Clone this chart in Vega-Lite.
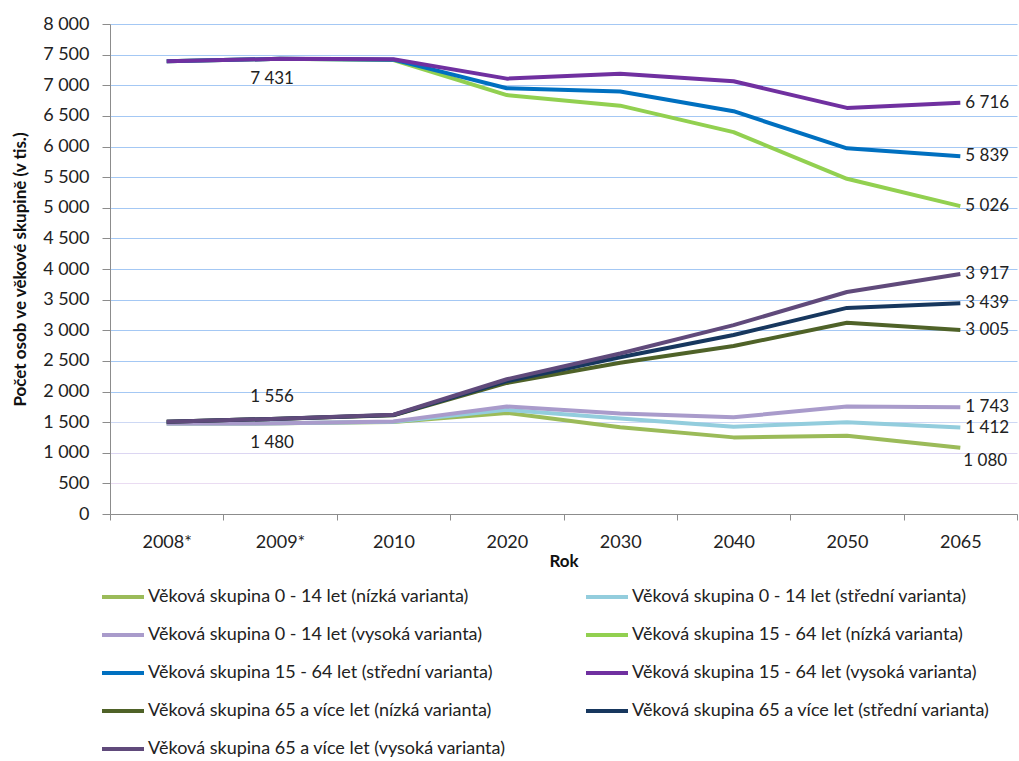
{
  "$schema": "https://vega.github.io/schema/vega-lite/v6.json",
  "width": 907,
  "height": 490,
  "autosize": "none",
  "padding": {"left": 110, "top": 24, "right": 2, "bottom": 247},
  "background": "white",
  "config": {
    "locale": {"number": {"decimal": ",", "thousands": "\u00a0", "grouping": [3], "currency": ["", "\u00a0Kč"]}},
    "font": "Lato",
    "view": {"stroke": null},
    "axis": {"labelFont": "Lato", "labelFontSize": 18, "labelColor": "#222222", "titleFont": "Lato", "titleFontSize": 17, "titleFontWeight": "bold", "titleColor": "#111111", "domainColor": "#8c8c8c", "tickColor": "#8c8c8c"},
    "legend": {"labelFont": "Lato", "labelFontSize": 18, "labelColor": "#222222"}
  },
  "data": {
    "values": [
      {"rok": "2008*", "skupina": "Věková skupina 0 - 14 let (nízká varianta)", "pocet": 1476},
      {"rok": "2009*", "skupina": "Věková skupina 0 - 14 let (nízká varianta)", "pocet": 1480},
      {"rok": "2010", "skupina": "Věková skupina 0 - 14 let (nízká varianta)", "pocet": 1500},
      {"rok": "2020", "skupina": "Věková skupina 0 - 14 let (nízká varianta)", "pocet": 1650},
      {"rok": "2030", "skupina": "Věková skupina 0 - 14 let (nízká varianta)", "pocet": 1415},
      {"rok": "2040", "skupina": "Věková skupina 0 - 14 let (nízká varianta)", "pocet": 1251},
      {"rok": "2050", "skupina": "Věková skupina 0 - 14 let (nízká varianta)", "pocet": 1279},
      {"rok": "2065", "skupina": "Věková skupina 0 - 14 let (nízká varianta)", "pocet": 1080},
      {"rok": "2008*", "skupina": "Věková skupina 0 - 14 let (střední varianta)", "pocet": 1476},
      {"rok": "2009*", "skupina": "Věková skupina 0 - 14 let (střední varianta)", "pocet": 1480},
      {"rok": "2010", "skupina": "Věková skupina 0 - 14 let (střední varianta)", "pocet": 1505},
      {"rok": "2020", "skupina": "Věková skupina 0 - 14 let (střední varianta)", "pocet": 1700},
      {"rok": "2030", "skupina": "Věková skupina 0 - 14 let (střední varianta)", "pocet": 1561},
      {"rok": "2040", "skupina": "Věková skupina 0 - 14 let (střední varianta)", "pocet": 1426},
      {"rok": "2050", "skupina": "Věková skupina 0 - 14 let (střední varianta)", "pocet": 1497},
      {"rok": "2065", "skupina": "Věková skupina 0 - 14 let (střední varianta)", "pocet": 1412},
      {"rok": "2008*", "skupina": "Věková skupina 0 - 14 let (vysoká varianta)", "pocet": 1476},
      {"rok": "2009*", "skupina": "Věková skupina 0 - 14 let (vysoká varianta)", "pocet": 1480},
      {"rok": "2010", "skupina": "Věková skupina 0 - 14 let (vysoká varianta)", "pocet": 1512},
      {"rok": "2020", "skupina": "Věková skupina 0 - 14 let (vysoká varianta)", "pocet": 1755},
      {"rok": "2030", "skupina": "Věková skupina 0 - 14 let (vysoká varianta)", "pocet": 1642},
      {"rok": "2040", "skupina": "Věková skupina 0 - 14 let (vysoká varianta)", "pocet": 1579},
      {"rok": "2050", "skupina": "Věková skupina 0 - 14 let (vysoká varianta)", "pocet": 1754},
      {"rok": "2065", "skupina": "Věková skupina 0 - 14 let (vysoká varianta)", "pocet": 1743},
      {"rok": "2008*", "skupina": "Věková skupina 15 - 64 let (nízká varianta)", "pocet": 7391},
      {"rok": "2009*", "skupina": "Věková skupina 15 - 64 let (nízká varianta)", "pocet": 7431},
      {"rok": "2010", "skupina": "Věková skupina 15 - 64 let (nízká varianta)", "pocet": 7412},
      {"rok": "2020", "skupina": "Věková skupina 15 - 64 let (nízká varianta)", "pocet": 6839},
      {"rok": "2030", "skupina": "Věková skupina 15 - 64 let (nízká varianta)", "pocet": 6667},
      {"rok": "2040", "skupina": "Věková skupina 15 - 64 let (nízká varianta)", "pocet": 6234},
      {"rok": "2050", "skupina": "Věková skupina 15 - 64 let (nízká varianta)", "pocet": 5473},
      {"rok": "2065", "skupina": "Věková skupina 15 - 64 let (nízká varianta)", "pocet": 5026},
      {"rok": "2008*", "skupina": "Věková skupina 15 - 64 let (střední varianta)", "pocet": 7391},
      {"rok": "2009*", "skupina": "Věková skupina 15 - 64 let (střední varianta)", "pocet": 7431},
      {"rok": "2010", "skupina": "Věková skupina 15 - 64 let (střední varianta)", "pocet": 7418},
      {"rok": "2020", "skupina": "Věková skupina 15 - 64 let (střední varianta)", "pocet": 6952},
      {"rok": "2030", "skupina": "Věková skupina 15 - 64 let (střední varianta)", "pocet": 6898},
      {"rok": "2040", "skupina": "Věková skupina 15 - 64 let (střední varianta)", "pocet": 6576},
      {"rok": "2050", "skupina": "Věková skupina 15 - 64 let (střední varianta)", "pocet": 5970},
      {"rok": "2065", "skupina": "Věková skupina 15 - 64 let (střední varianta)", "pocet": 5839},
      {"rok": "2008*", "skupina": "Věková skupina 15 - 64 let (vysoká varianta)", "pocet": 7391},
      {"rok": "2009*", "skupina": "Věková skupina 15 - 64 let (vysoká varianta)", "pocet": 7431},
      {"rok": "2010", "skupina": "Věková skupina 15 - 64 let (vysoká varianta)", "pocet": 7425},
      {"rok": "2020", "skupina": "Věková skupina 15 - 64 let (vysoká varianta)", "pocet": 7108},
      {"rok": "2030", "skupina": "Věková skupina 15 - 64 let (vysoká varianta)", "pocet": 7188},
      {"rok": "2040", "skupina": "Věková skupina 15 - 64 let (vysoká varianta)", "pocet": 7065},
      {"rok": "2050", "skupina": "Věková skupina 15 - 64 let (vysoká varianta)", "pocet": 6630},
      {"rok": "2065", "skupina": "Věková skupina 15 - 64 let (vysoká varianta)", "pocet": 6716},
      {"rok": "2008*", "skupina": "Věková skupina 65 a více let (nízká varianta)", "pocet": 1506},
      {"rok": "2009*", "skupina": "Věková skupina 65 a více let (nízká varianta)", "pocet": 1556},
      {"rok": "2010", "skupina": "Věková skupina 65 a více let (nízká varianta)", "pocet": 1612},
      {"rok": "2020", "skupina": "Věková skupina 65 a více let (nízká varianta)", "pocet": 2140},
      {"rok": "2030", "skupina": "Věková skupina 65 a více let (nízká varianta)", "pocet": 2470},
      {"rok": "2040", "skupina": "Věková skupina 65 a více let (nízká varianta)", "pocet": 2743},
      {"rok": "2050", "skupina": "Věková skupina 65 a více let (nízká varianta)", "pocet": 3122},
      {"rok": "2065", "skupina": "Věková skupina 65 a více let (nízká varianta)", "pocet": 3005},
      {"rok": "2008*", "skupina": "Věková skupina 65 a více let (střední varianta)", "pocet": 1506},
      {"rok": "2009*", "skupina": "Věková skupina 65 a více let (střední varianta)", "pocet": 1556},
      {"rok": "2010", "skupina": "Věková skupina 65 a více let (střední varianta)", "pocet": 1616},
      {"rok": "2020", "skupina": "Věková skupina 65 a více let (střední varianta)", "pocet": 2170},
      {"rok": "2030", "skupina": "Věková skupina 65 a více let (střední varianta)", "pocet": 2560},
      {"rok": "2040", "skupina": "Věková skupina 65 a více let (střední varianta)", "pocet": 2922},
      {"rok": "2050", "skupina": "Věková skupina 65 a více let (střední varianta)", "pocet": 3365},
      {"rok": "2065", "skupina": "Věková skupina 65 a více let (střední varianta)", "pocet": 3439},
      {"rok": "2008*", "skupina": "Věková skupina 65 a více let (vysoká varianta)", "pocet": 1506},
      {"rok": "2009*", "skupina": "Věková skupina 65 a více let (vysoká varianta)", "pocet": 1556},
      {"rok": "2010", "skupina": "Věková skupina 65 a více let (vysoká varianta)", "pocet": 1620},
      {"rok": "2020", "skupina": "Věková skupina 65 a více let (vysoká varianta)", "pocet": 2200},
      {"rok": "2030", "skupina": "Věková skupina 65 a více let (vysoká varianta)", "pocet": 2620},
      {"rok": "2040", "skupina": "Věková skupina 65 a více let (vysoká varianta)", "pocet": 3084},
      {"rok": "2050", "skupina": "Věková skupina 65 a více let (vysoká varianta)", "pocet": 3624},
      {"rok": "2065", "skupina": "Věková skupina 65 a více let (vysoká varianta)", "pocet": 3917}
    ]
  },
  "encoding": {
    "x": {
      "field": "rok",
      "type": "ordinal",
      "sort": ["2008*", "2009*", "2010", "2020", "2030", "2040", "2050", "2065"],
      "scale": {"type": "band", "paddingInner": 0, "paddingOuter": 0},
      "bandPosition": 0.5,
      "title": "Rok",
      "axis": {"labelAngle": 0, "tickBand": "extent", "tickSize": 6, "labelPadding": 13, "titlePadding": 2, "grid": false}
    },
    "y": {
      "field": "pocet",
      "type": "quantitative",
      "scale": {"domain": [0, 8000], "nice": false},
      "title": "Počet osob ve věkové skupině (v tis.)",
      "axis": {
        "values": [0, 500, 1000, 1500, 2000, 2500, 3000, 3500, 4000, 4500, 5000, 5500, 6000, 6500, 7000, 7500, 8000],
        "format": ",d",
        "grid": true,
        "gridColor": {"condition": [{"test": "datum.value == 500", "value": "#eadcf2"}, {"test": "datum.value == 1000", "value": "#dcd6f2"}, {"test": "datum.value == 1500", "value": "#cdd8f4"}], "value": "#a4c8f4"},
        "gridWidth": 1,
        "tickSize": 8,
        "labelPadding": 13,
        "titlePadding": 13
      }
    }
  },
  "layer": [
    {
      "mark": {"type": "line", "strokeWidth": 4, "strokeJoin": "round"},
      "encoding": {
        "color": {
          "field": "skupina",
          "type": "nominal",
          "sort": null,
          "scale": {
            "domain": [
              "Věková skupina 0 - 14 let (nízká varianta)",
              "Věková skupina 0 - 14 let (střední varianta)",
              "Věková skupina 0 - 14 let (vysoká varianta)",
              "Věková skupina 15 - 64 let (nízká varianta)",
              "Věková skupina 15 - 64 let (střední varianta)",
              "Věková skupina 15 - 64 let (vysoká varianta)",
              "Věková skupina 65 a více let (nízká varianta)",
              "Věková skupina 65 a více let (střední varianta)",
              "Věková skupina 65 a více let (vysoká varianta)"
            ],
            "range": ["#9bbb59", "#93cddd", "#a99bcb", "#92d050", "#0070c0", "#7030a0", "#4f6228", "#17375e", "#604a7b"]
          },
          "legend": {
            "title": null,
            "orient": "none",
            "legendX": -10,
            "legendY": 550,
            "columns": 2,
            "direction": "horizontal",
            "symbolType": "stroke",
            "symbolSize": 1764,
            "symbolStrokeWidth": 4,
            "labelOffset": 2,
            "labelLimit": 500,
            "rowPadding": 6,
            "columnPadding": 72
          }
        }
      }
    },
    {
      "transform": [{"filter": "datum.rok == '2065' && datum.skupina != 'Věková skupina 0 - 14 let (nízká varianta)'"}],
      "mark": {"type": "text", "align": "left", "baseline": "middle", "dx": 5, "fontSize": 17, "color": "#222222"},
      "encoding": {"text": {"field": "pocet", "type": "quantitative", "format": ",d"}}
    },
    {
      "transform": [{"filter": "datum.rok == '2065' && datum.skupina == 'Věková skupina 0 - 14 let (nízká varianta)'"}],
      "mark": {"type": "text", "align": "left", "baseline": "middle", "dx": 3, "dy": 13, "fontSize": 17, "color": "#222222"},
      "encoding": {"text": {"field": "pocet", "type": "quantitative", "format": ",d"}}
    },
    {
      "transform": [{"filter": "datum.rok == '2009*' && datum.skupina == 'Věková skupina 65 a více let (vysoká varianta)'"}],
      "mark": {"type": "text", "align": "center", "baseline": "middle", "dx": -8, "dy": -22, "fontSize": 17, "color": "#222222"},
      "encoding": {"text": {"field": "pocet", "type": "quantitative", "format": ",d"}}
    },
    {
      "transform": [{"filter": "datum.rok == '2009*' && (datum.skupina == 'Věková skupina 15 - 64 let (vysoká varianta)' || datum.skupina == 'Věková skupina 0 - 14 let (nízká varianta)')"}],
      "mark": {"type": "text", "align": "center", "baseline": "middle", "dx": -8, "dy": 20, "fontSize": 17, "color": "#222222"},
      "encoding": {"text": {"field": "pocet", "type": "quantitative", "format": ",d"}}
    }
  ]
}
